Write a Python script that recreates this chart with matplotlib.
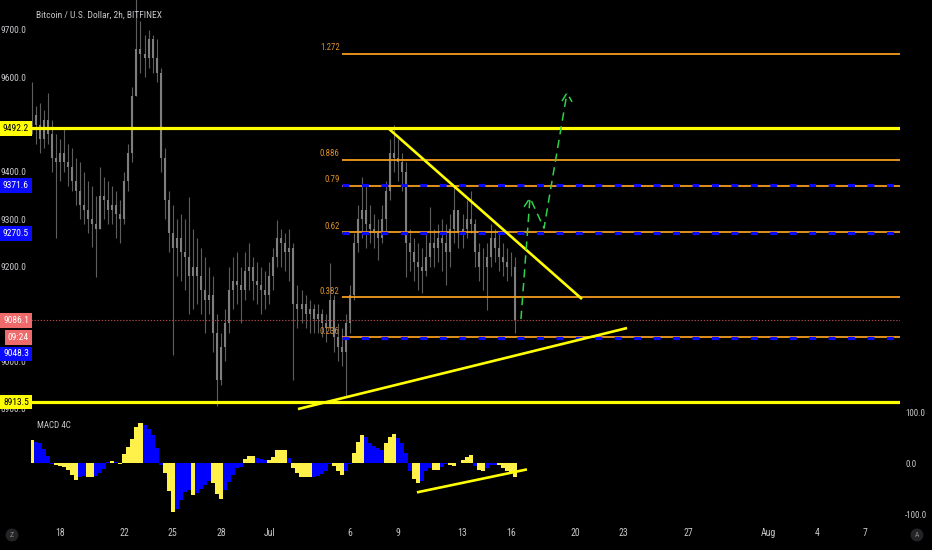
import numpy as np
import matplotlib
matplotlib.use("Agg")
import matplotlib.pyplot as plt
from matplotlib import font_manager

plt.rcParams['lines.scale_dashes'] = False


def pick_font(names):
    for n in names:
        try:
            font_manager.findfont(n, fallback_to_default=False)
            return n
        except ValueError:
            pass
    return 'DejaVu Sans'


FONT = pick_font(['Liberation Sans Narrow', 'Roboto Condensed', 'Liberation Sans'])

# BTCUSD (Bitfinex), sampled every 6h, day 0 = Jun 18
start_day = -1.75
step_day = 0.25
highs = [9590, 9540, 9545, 9530, 9567, 9510, 9480, 9470, 9495, 9460,
         9450, 9430, 9420, 9400, 9380, 9370, 9350, 9410, 9390, 9380,
         9370, 9360, 9340, 9400, 9460, 9580, 9780, 9720, 9690, 9700,
         9690, 9680, 9620, 9450, 9360, 9330, 9300, 9310, 9300, 9347,
         9280, 9260, 9240, 9220, 9200, 9180, 9100, 9060, 9110, 9200,
         9220, 9230, 9200, 9230, 9250, 9220, 9210, 9200, 9190, 9210,
         9240, 9298, 9280, 9270, 9280, 9250, 9160, 9150, 9140, 9130,
         9120, 9120, 9110, 9100, 9207, 9140, 9080, 9070, 9100, 9160,
         9270, 9330, 9389, 9370, 9330, 9310, 9300, 9330, 9380, 9470,
         9499, 9470, 9440, 9420, 9280, 9260, 9250, 9240, 9270, 9326,
         9280, 9290, 9300, 9290, 9310, 9368, 9320, 9310, 9340, 9360,
         9300, 9250, 9240, 9250, 9290, 9280, 9270, 9250, 9240, 9230,
         9220]
lows = [9480, 9460, 9440, 9450, 9460, 9400, 9260, 9380, 9400, 9370,
        9360, 9330, 9300, 9290, 9270, 9241, 9178, 9280, 9300, 9290,
        9290, 9260, 9250, 9290, 9360, 9420, 9560, 9610, 9600, 9620,
        9610, 9590, 9400, 9300, 9230, 9013, 9180, 9170, 9150, 9100,
        9110, 9120, 9100, 9060, 9100, 9020, 8905, 8950, 9000, 9060,
        9110, 9120, 9080, 9130, 9150, 9130, 9120, 9100, 9110, 9120,
        9150, 9200, 9200, 9190, 9170, 8960, 9070, 9080, 9070, 9060,
        9060, 9060, 9050, 9040, 9060, 9020, 9000, 8990, 8924, 9060,
        9130, 9230, 9260, 9240, 9250, 9240, 9214, 9250, 9270, 9340,
        9400, 9380, 9360, 9178, 9190, 9170, 9150, 9144, 9180, 9200,
        9200, 9210, 9190, 9160, 9200, 9250, 9240, 9240, 9260, 9270,
        9200, 9170, 9150, 9108, 9200, 9210, 9190, 9180, 9170, 9180,
        9059]
closes = [9520, 9500, 9470, 9510, 9480, 9430, 9420, 9440, 9420, 9410,
          9380, 9360, 9330, 9320, 9300, 9290, 9280, 9350, 9340, 9320,
          9330, 9310, 9300, 9380, 9440, 9560, 9660, 9650, 9640, 9680,
          9640, 9610, 9430, 9340, 9270, 9240, 9260, 9230, 9220, 9180,
          9200, 9180, 9150, 9130, 9140, 9060, 8960, 9030, 9080, 9150,
          9170, 9160, 9150, 9190, 9200, 9170, 9160, 9150, 9140, 9180,
          9220, 9260, 9250, 9230, 9240, 9120, 9110, 9120, 9100, 9110,
          9090, 9100, 9080, 9070, 9130, 9050, 9030, 9020, 9080, 9140,
          9250, 9300, 9320, 9290, 9280, 9270, 9260, 9300, 9360, 9440,
          9430, 9420, 9400, 9250, 9230, 9210, 9200, 9190, 9220, 9250,
          9240, 9260, 9250, 9230, 9280, 9320, 9270, 9280, 9300, 9290,
          9230, 9200, 9200, 9220, 9260, 9240, 9220, 9210, 9200, 9200,
          9086]
macd_hist = [46, 42, 40, 28, 15, -2, -4, -6, -8, -13,
             -22, -33, -26, -24, -26, -27, -25, -20, -12, 3,
             4, 2, -2, 18, 32, 48, 72, 78, 75, 68,
             55, 30, -4, -20, -55, -95, -90, -72, -56, -53,
             -62, -58, -50, -43, -35, -38, -60, -70, -52, -36,
             -22, -9, -8, 8, 14, 15, 11, 9, 7, 7,
             12, 26, 27, 27, 10, -10, -20, -26, -27, -27,
             -26, -24, -21, -15, -2, -5, -16, -23, -16, -2,
             20, 42, 56, 52, 40, 34, 30, 26, 40, 52,
             57, 50, 40, 20, -16, -30, -39, -35, -16, -10,
             -14, -14, -8, -2, -4, -6, 0, 6, 12, 16,
             -5, -14, -15, -10, -4, -3, -4, -9, -15, -19,
             -26]

last_price = 9086.1
range_high = 9492.2
range_low = 8913.5
fib_ratios = [0.236, 0.382, 0.62, 0.79, 0.886, 1.272]
fib_start = 17.5
blue_levels = [9371.6, 9270.5, 9048.3]

# drawings (day, price)
down_line = ([20.37, 32.42], [9492.8, 9131.3])
up_line = ([14.78, 35.22], [8898.7, 9070.0])
macd_line = ([22.17, 29.0], [-57, -12])
green_path = ([28.63, 29.19, 30.06, 31.49], [9089, 9345, 9281, 9567])
green_wing1 = ([28.82, 29.19], [9326, 9345])
green_wing2 = ([31.18, 31.49, 31.80], [9550, 9567, 9548])

tick_days = [0, 4, 7, 10, 13, 18, 21, 25, 28, 32, 35, 39, 44, 47, 50]
tick_labels = ['18', '22', '25', '28', 'Jul', '6', '9', '13', '16', '20', '23', '27', 'Aug', '4', '7']
# 9500 / 9100 sit under the price tags
price_ticks = [8900, 9000, 9200, 9300, 9400, 9600, 9700]
macd_ticks = [-100, 0, 100]

X0, X1 = -1.80, 52.17
TXT = '#c8c8cc'
YEL = '#ffff00'
ORG = '#f39c1e'
BLU = '#0a0aff'


def price_tag(ax, y, text, face, fg, dy=0):
    ax.annotate(text, xy=(0, y), xycoords=ax.get_yaxis_transform(),
                xytext=(-1.5, dy), textcoords='offset points',
                ha='right', va='center', fontsize=6.8, color=fg, family=FONT,
                bbox=dict(boxstyle='square,pad=0.3', fc=face, ec='none'),
                annotation_clip=False, zorder=20)


def main():
    fig = plt.figure(figsize=(9.32, 5.5), dpi=100, facecolor='black')
    ax = fig.add_axes([31 / 932, 139 / 550, 869 / 932, 411 / 550])
    ax2 = fig.add_axes([31 / 932, 28 / 550, 869 / 932, 111 / 550])
    for a in (ax, ax2):
        a.set_facecolor('black')
        for s in a.spines.values():
            s.set_visible(False)
        a.set_xlim(X0, X1)

    # candles
    t = start_day + step_day * np.arange(len(closes))
    c = np.array(closes, float)
    o = np.r_[c[0], c[:-1]]
    ax.vlines(t, lows, highs, color='#5e5e5e', lw=0.8, zorder=2)
    ax.vlines(t, np.minimum(o, c), np.maximum(o, c), color='#7e7e7e', lw=1.5, zorder=2)

    # range lines
    ax.axhline(range_high, color=YEL, lw=2.3, zorder=6)
    ax.axhline(range_low, color=YEL, lw=2.3, zorder=6)
    ax.axhline(last_price, color='#a84848', lw=0.8, ls=(0, (1, 1.2)), zorder=3)

    # fib levels
    levels = [range_low + r * (range_high - range_low) for r in fib_ratios]
    ax.hlines(levels, fib_start, X1, colors=ORG, lw=1.3, zorder=4)
    for r, lv in zip(fib_ratios, levels):
        ax.annotate(f"{r:g}", (fib_start, lv), xytext=(-1.5, 1), textcoords='offset points',
                    ha='right', va='bottom', color='#e0922a', fontsize=6.3, family=FONT, zorder=8)
    ax.hlines(blue_levels, fib_start, X1, colors=BLU, lw=2.3, linestyles=[(0, (5, 9))], zorder=5)

    # trend lines and projection
    ax.plot(*down_line, color=YEL, lw=1.9, zorder=7, solid_capstyle='butt')
    ax.plot(*up_line, color=YEL, lw=1.9, zorder=7, solid_capstyle='butt')
    for xs, ys in (green_path, green_wing1, green_wing2):
        ax.plot(xs, ys, color='#2fd04a', lw=1.1, ls=(0, (6, 4)), zorder=8)

    ax.set_ylim(8894.6, 9763.4)
    ax.set_xticks([])
    ax.set_yticks(price_ticks)
    ax.set_yticklabels([f"{v:.1f}" for v in price_ticks], family=FONT)
    ax.tick_params(axis='y', length=0, pad=3.5, labelsize=6.8, labelcolor=TXT)

    price_tag(ax, range_high, f"{range_high:.1f}", YEL, 'black')
    price_tag(ax, range_low, f"{range_low:.1f}", YEL, 'black')
    price_tag(ax, blue_levels[0], f"{blue_levels[0]:.1f}", BLU, 'white')
    price_tag(ax, blue_levels[1], f"{blue_levels[1]:.1f}", BLU, 'white')
    price_tag(ax, last_price, f"{last_price:.1f}", '#ef6b6b', 'white')
    price_tag(ax, last_price, "09:24", '#ef6b6b', 'white', dy=-12.3)
    price_tag(ax, blue_levels[2], f"{blue_levels[2]:.1f}", BLU, 'white', dy=-11.2)

    fig.text(36 / 932, 1 - 15 / 550, "Bitcoin / U.S. Dollar, 2h, BITFINEX", color=TXT,
             fontsize=6.8, family=FONT, va='center', ha='left')

    # MACD 4C histogram: yellow while growing away from zero, blue while shrinking
    h = np.array(macd_hist, float)
    mag = np.abs(h)
    growing = np.r_[True, mag[1:] >= mag[:-1]]
    cols = np.where(growing, '#fff04a', '#0000ff')
    ax2.bar(t, h, width=step_day, color=cols, linewidth=0, zorder=2)
    ax2.plot(*macd_line, color=YEL, lw=1.9, zorder=5, solid_capstyle='butt')
    ax2.set_ylim(-115.1, 102.5)
    ax2.yaxis.tick_right()
    ax2.set_yticks(macd_ticks)
    ax2.set_yticklabels([f"{v:.1f}" for v in macd_ticks], family=FONT)
    ax2.tick_params(axis='y', length=0, pad=3.6, labelsize=6.5, labelcolor=TXT)
    ax2.set_xticks(tick_days)
    ax2.set_xticklabels(tick_labels, family=FONT)
    ax2.tick_params(axis='x', length=0, pad=4.5, labelsize=7, labelcolor=TXT)
    fig.text(37 / 932, 1 - 426 / 550, "MACD 4C", color=TXT, fontsize=6.5, family=FONT,
             va='center', ha='left')

    for px, letter in ((12, 'Z'), (917, 'A')):
        fig.text(px / 932, 1 - 535 / 550, letter, color='#8a8a8a', fontsize=5.5, family=FONT,
                 ha='center', va='center',
                 bbox=dict(boxstyle='circle,pad=0.45', fc='#242427', ec='none'))

    fig.savefig('out.png', dpi=100, facecolor='black')


if __name__ == '__main__':
    main()
